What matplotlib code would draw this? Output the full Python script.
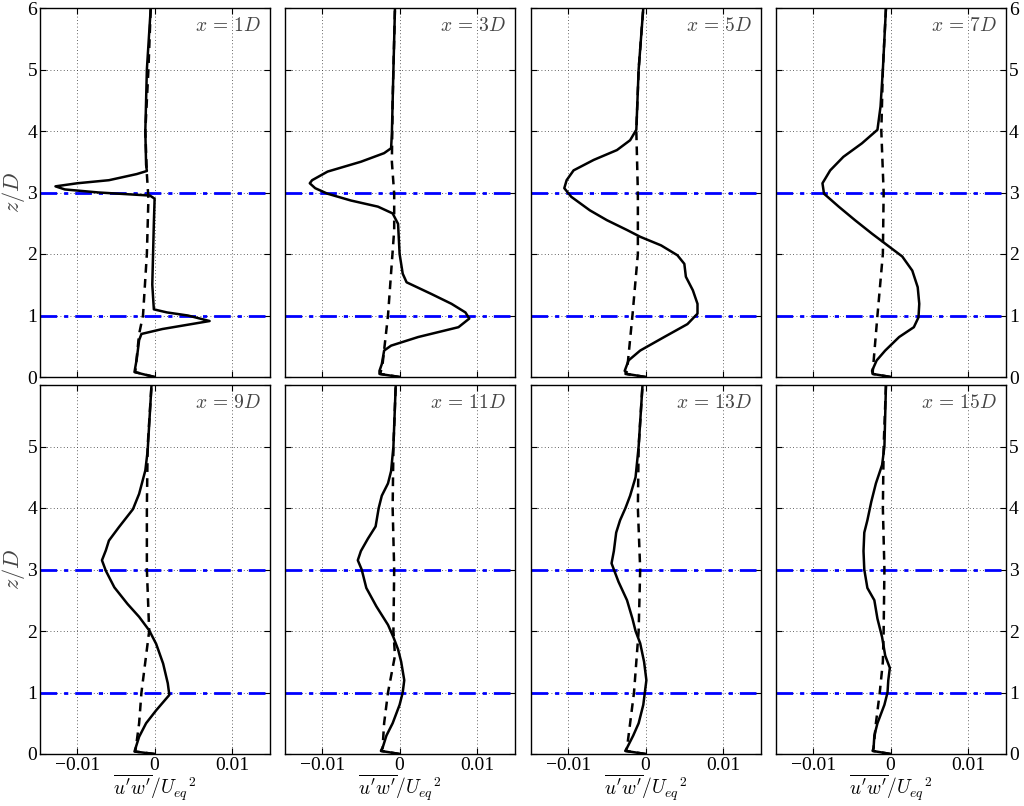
import matplotlib
matplotlib.use("Agg")
import matplotlib.pyplot as plt
import numpy as np

# ---------------- data ----------------
stations = ["1D", "3D", "5D", "7D", "9D", "11D", "13D", "15D"]

# x = 1D
z_1 = [0.0, 0.08, 0.3, 0.6, 0.7, 0.78, 0.91, 1.0, 1.05, 1.1, 1.5, 2.0, 2.5, 2.9, 2.95, 3.0, 3.05, 3.1, 3.15, 3.2, 3.3, 3.35, 3.45, 4.0, 5.0, 6.0]
s_1 = [0.0, -0.0026, -0.0023, -0.0020, -0.0017, 0.0010, 0.0071, 0.0043, 0.0016, -0.0001, -0.0003, -0.0002, -0.0001, 0.0, -0.0006, -0.0072, -0.0116, -0.0128, -0.0100, -0.0059, -0.0023, -0.0010, -0.0011, -0.0012, -0.0010, -0.0005]
zd_1 = [0.0, 0.08, 0.7, 1.0, 2.0, 2.9, 3.3, 4.0, 5.0, 6.0]
d_1 = [0.0, -0.0025, -0.0020, -0.0015, -0.0010, -0.0008, -0.0010, -0.0012, -0.0008, -0.0005]

# x = 3D
z_3 = [0.0, 0.05, 0.1, 0.21, 0.43, 0.51, 0.65, 0.81, 0.95, 1.05, 1.19, 1.35, 1.54, 1.68, 2.0, 2.49, 2.66, 2.77, 2.87, 2.98, 3.07, 3.15, 3.2, 3.34, 3.5, 3.64, 3.72, 3.96, 5.0, 6.0]
s_3 = [0.0, -0.0026, -0.0026, -0.0023, -0.0020, -0.0011, 0.0024, 0.0076, 0.0090, 0.0085, 0.0067, 0.0041, 0.0009, 0.0004, 0.0, -0.0002, -0.0009, -0.0028, -0.0063, -0.0093, -0.0109, -0.0116, -0.0113, -0.0093, -0.0050, -0.0020, -0.0011, -0.0010, -0.0008, -0.0006]
zd_3 = [0.0, 0.05, 0.21, 1.0, 2.39, 2.98, 3.5, 4.5, 6.0]
d_3 = [0.0, -0.0025, -0.0022, -0.0015, -0.0007, -0.0007, -0.0010, -0.0009, -0.0006]

# x = 5D
z_5 = [0.0, 0.05, 0.1, 0.27, 0.43, 0.65, 0.86, 1.03, 1.19, 1.41, 1.63, 1.84, 1.98, 2.14, 2.28, 2.39, 2.55, 2.71, 2.93, 3.07, 3.2, 3.36, 3.53, 3.69, 3.85, 4.02, 5.0, 6.0]
s_5 = [0.0, -0.0024, -0.0027, -0.0022, -0.0007, 0.0024, 0.0054, 0.0067, 0.0067, 0.0061, 0.0052, 0.0050, 0.0041, 0.0020, -0.0007, -0.0024, -0.0050, -0.0072, -0.0096, -0.0105, -0.0102, -0.0093, -0.0067, -0.0037, -0.0020, -0.0012, -0.0009, -0.0003]
zd_5 = [0.0, 0.05, 0.1, 1.0, 2.0, 3.0, 4.0, 5.0, 6.0]
d_5 = [0.0, -0.0026, -0.0024, -0.0017, -0.0010, -0.0010, -0.0012, -0.0009, -0.0003]

# x = 7D
z_7 = [0.0, 0.05, 0.1, 0.27, 0.43, 0.65, 0.81, 0.97, 1.19, 1.46, 1.73, 1.96, 2.14, 2.33, 2.55, 2.77, 2.98, 3.15, 3.36, 3.58, 3.8, 4.02, 4.4, 5.0, 6.0]
s_7 = [0.0, -0.0023, -0.0024, -0.0018, -0.0007, 0.0011, 0.0030, 0.0036, 0.0037, 0.0035, 0.0028, 0.0015, -0.0004, -0.0024, -0.0046, -0.0067, -0.0086, -0.0088, -0.0078, -0.0061, -0.0037, -0.0017, -0.0013, -0.0010, -0.0006]
zd_7 = [0.0, 0.05, 0.1, 1.0, 2.0, 3.0, 4.0, 5.0, 6.0]
d_7 = [0.0, -0.0023, -0.0023, -0.0017, -0.0010, -0.0009, -0.0012, -0.0010, -0.0006]

# x = 9D
z_9 = [0.0, 0.04, 0.12, 0.28, 0.5, 0.71, 0.96, 1.15, 1.47, 1.79, 2.01, 2.23, 2.44, 2.71, 2.98, 3.15, 3.31, 3.47, 3.69, 3.98, 4.23, 4.61, 4.93, 6.0]
s_9 = [0.0, -0.0026, -0.0024, -0.0020, -0.0011, 0.0002, 0.0019, 0.0017, 0.0011, 0.0002, -0.0007, -0.0020, -0.0035, -0.0052, -0.0063, -0.0068, -0.0063, -0.0059, -0.0046, -0.0028, -0.0020, -0.0012, -0.0009, -0.0004]
zd_9 = [0.0, 0.04, 0.12, 0.5, 1.0, 2.0, 3.0, 4.0, 5.0, 6.0]
d_9 = [0.0, -0.0025, -0.0024, -0.0020, -0.0017, -0.0007, -0.0010, -0.0010, -0.0009, -0.0004]

# x = 11D
z_11 = [0.0, 0.05, 0.1, 0.3, 0.5, 0.8, 1.0, 1.2, 1.5, 1.7, 1.9, 2.1, 2.4, 2.7, 3.0, 3.15, 3.3, 3.5, 3.7, 4.0, 4.2, 4.4, 4.6, 5.0, 6.0]
s_11 = [0.0, -0.0024, -0.0022, -0.0017, -0.0009, 0.0, 0.0004, 0.0006, 0.0002, -0.0002, -0.0008, -0.0015, -0.0030, -0.0043, -0.0049, -0.0054, -0.0050, -0.0041, -0.0031, -0.0027, -0.0023, -0.0015, -0.0011, -0.0008, -0.0005]
zd_11 = [0.0, 0.05, 0.1, 0.5, 1.0, 1.6, 2.0, 3.0, 4.0, 5.0, 6.0]
d_11 = [0.0, -0.0024, -0.0022, -0.0020, -0.0015, -0.0006, -0.0008, -0.0007, -0.0009, -0.0008, -0.0005]

# x = 13D
z_13 = [0.0, 0.05, 0.1, 0.3, 0.5, 0.8, 1.0, 1.2, 1.5, 1.8, 2.0, 2.2, 2.5, 2.8, 3.0, 3.1, 3.3, 3.6, 3.8, 4.0, 4.2, 4.5, 5.0, 6.0]
s_13 = [0.0, -0.0026, -0.0024, -0.0016, -0.0009, -0.0003, -0.0001, 0.0001, -0.0002, -0.0007, -0.0013, -0.0017, -0.0024, -0.0035, -0.0041, -0.0044, -0.0041, -0.0038, -0.0033, -0.0026, -0.0020, -0.0013, -0.0009, -0.0004]
zd_13 = [0.0, 0.05, 0.1, 0.5, 1.0, 2.0, 3.0, 4.0, 5.0, 6.0]
d_13 = [0.0, -0.0026, -0.0024, -0.0020, -0.0015, -0.0009, -0.0007, -0.0010, -0.0009, -0.0004]

# x = 15D
z_15 = [0.0, 0.05, 0.1, 0.3, 0.5, 0.8, 1.0, 1.2, 1.4, 1.6, 1.9, 2.2, 2.5, 2.7, 3.0, 3.3, 3.6, 3.8, 4.1, 4.4, 4.7, 5.0, 6.0]
s_15 = [0.0, -0.0023, -0.0022, -0.0021, -0.0017, -0.0008, -0.0004, -0.0003, -0.0001, -0.0007, -0.0011, -0.0017, -0.0021, -0.0030, -0.0034, -0.0035, -0.0034, -0.0030, -0.0025, -0.0019, -0.0011, -0.0008, -0.0006]
zd_15 = [0.0, 0.05, 0.1, 0.5, 1.0, 1.5, 2.0, 3.0, 4.0, 5.0, 6.0]
d_15 = [0.0, -0.0023, -0.0022, -0.0019, -0.0014, -0.0010, -0.0009, -0.0008, -0.0010, -0.0009, -0.0006]

rotor_heights = [1.0, 3.0]
x_ticks = [-0.01, 0.0, 0.01]
x_ticklabels = ["\u22120.01", "0", "0.01"]
y_ticks_top = [0, 1, 2, 3, 4, 5, 6]
y_ticks_bottom = [0, 1, 2, 3, 4, 5]

solid = [(z_1, s_1), (z_3, s_3), (z_5, s_5), (z_7, s_7),
         (z_9, s_9), (z_11, s_11), (z_13, s_13), (z_15, s_15)]
dashed = [(zd_1, d_1), (zd_3, d_3), (zd_5, d_5), (zd_7, d_7),
          (zd_9, d_9), (zd_11, d_11), (zd_13, d_13), (zd_15, d_15)]

# ---------------- figure ----------------
plt.rcParams["font.family"] = ["Liberation Serif", "DejaVu Serif"]
plt.rcParams["mathtext.fontset"] = "cm"
plt.rcParams["font.size"] = 11

W, H = 1024, 806
fig = plt.figure(figsize=(W / 100, H / 100), dpi=100)

col_left = [40, 285, 531, 776]
col_w = 230
row_top = [8, 385]
row_h = 369

for k in range(8):
    r, c = divmod(k, 4)
    left = col_left[c] / W
    bottom = 1 - (row_top[r] + row_h) / H
    ax = fig.add_axes([left, bottom, col_w / W, row_h / H])

    zs, vs = solid[k]
    zd, vd = dashed[k]
    for zh in rotor_heights:
        ax.axhline(zh, color="#0000ff", lw=2.0, ls=(0, (6, 2.5, 1.5, 2.5)), zorder=2)
    ax.plot(vd, zd, color="black", lw=1.8, ls=(0, (3.5, 2.5)), zorder=3)
    ax.plot(vs, zs, color="black", lw=1.8, zorder=4, solid_joinstyle="round")

    ax.set_xlim(-0.0148, 0.0149)
    ax.set_ylim(0, 6)
    ax.set_xticks(x_ticks)
    ax.set_yticks(y_ticks_top)
    ax.grid(True, color="#333333", ls=(0, (1, 3)), lw=0.6)
    ax.tick_params(direction="in", length=4, width=0.8, top=True, right=True,
                   labelsize=14, pad=2)
    for sp in ax.spines.values():
        sp.set_linewidth(1.0)

    if r == 0:
        ax.set_xticklabels([])
    else:
        ax.set_xticklabels(x_ticklabels)
        ax.set_xlabel(r"$\overline{u'w'}/{U_{eq}}^2$", fontsize=14, labelpad=-1)

    if r == 0:
        labels = [str(v) for v in y_ticks_top]
    else:
        labels = [str(v) for v in y_ticks_bottom] + [""]
    if c == 0:
        ax.set_yticklabels(labels)
        ax.set_ylabel(r"$z/D$", fontsize=16, labelpad=0, color="#444444")
    elif c == 3:
        ax.yaxis.tick_right()
        ax.tick_params(axis="y", left=True, right=True, direction="in")
        ax.set_yticklabels(labels)
    else:
        ax.set_yticklabels([])

    num = stations[k][:-1]
    ax.text(0.96, 0.975, r"$x\,=\,%s D$" % num, transform=ax.transAxes,
            ha="right", va="top", fontsize=14, color="#444444")

fig.savefig("out.png", dpi=100)
